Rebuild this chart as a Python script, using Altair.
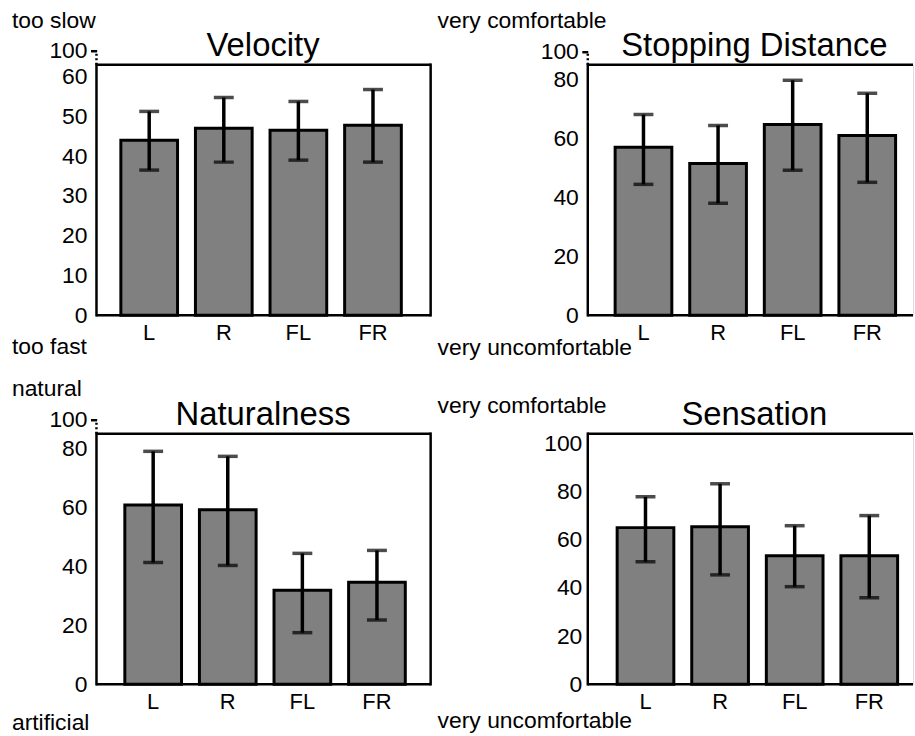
import altair as alt
import pandas as pd

# ---------------- data ----------------
cats = ["L", "R", "FL", "FR"]

vel_mean = [44.0, 47.0, 46.5, 47.75]
vel_hi = [51.25, 54.75, 53.75, 56.75]
vel_lo = [36.5, 38.5, 39.0, 38.5]

stop_mean = [57.0, 51.5, 64.7, 61.0]
stop_hi = [68.1, 64.4, 79.7, 75.3]
stop_lo = [44.4, 38.0, 49.2, 45.1]

nat_mean = [60.8, 59.2, 31.9, 34.6]
nat_hi = [79.0, 77.3, 44.4, 45.4]
nat_lo = [41.3, 40.3, 17.5, 21.8]

sen_mean = [65.0, 65.4, 53.3, 53.3]
sen_hi = [77.8, 83.2, 65.8, 70.0]
sen_lo = [50.8, 45.4, 40.5, 35.9]

vel_ticks = [0, 10, 20, 30, 40, 50, 60, 100]
pct_ticks = [0, 20, 40, 60, 80, 100]

FONT = "Liberation Sans"
H = 252


def panel(title, mean, lo, hi, W, top_val, ticks, notes, note_x, note_top_y,
          note_bot_y, align, broken, break_px=-14, right_edge=True):
    df = pd.DataFrame({"cat": cats, "mean": mean, "lo": lo, "hi": hi})
    one = pd.DataFrame({"a": [0]})
    pi = 0.24
    po = (W / 75.0 - 4 + pi) / 2
    xscale = alt.Scale(domain=cats, paddingInner=pi, paddingOuter=po, align=align)
    if broken:
        yscale = alt.Scale(domain=[0, top_val, 100], range=[H, 0, break_px],
                           nice=False, zero=False)
    else:
        yscale = alt.Scale(domain=[0, top_val], nice=False, zero=False)
    xaxis = alt.Axis(title=None, domain=False, ticks=False, grid=False,
                     labelAngle=0, labelFont=FONT, labelFontSize=22,
                     labelColor="black", labelPadding=7)
    yaxis = alt.Axis(values=ticks, title=None, domain=False, grid=False,
                     ticks=broken, tickSize=6, tickWidth=2.5,
                     tickColor={"condition": {"test": "datum.value === 100", "value": "black"},
                                "value": "transparent"},
                     labelFont=FONT, labelFontSize=23, labelColor="black",
                     labelPadding=3.5 if broken else 6)
    X = alt.X("cat:N", sort=cats, scale=xscale, axis=xaxis)

    base = alt.Chart(df)
    bars = base.mark_bar(fill="#808080", stroke="black", strokeWidth=3,
                         strokeJoin="miter").encode(
        x=X, y=alt.Y("mean:Q", scale=yscale, axis=yaxis))
    err = base.mark_rule(color="black", strokeWidth=3.5).encode(
        x=X, y=alt.Y("lo:Q", scale=yscale, axis=yaxis), y2="hi:Q")
    cap_hi = base.mark_tick(color="black", thickness=3.5, size=20,
                            orient="horizontal").encode(
        x=X, y=alt.Y("hi:Q", scale=yscale, axis=yaxis))
    cap_lo = base.mark_tick(color="black", thickness=3.5, size=20,
                            orient="horizontal").encode(
        x=X, y=alt.Y("lo:Q", scale=yscale, axis=yaxis))

    frame_c = alt.Chart(one)
    vline = dict(color="black", strokeWidth=2.5, strokeCap="square")
    hline = dict(color="black", strokeWidth=2.5, strokeCap="butt")
    layers = [bars, err, cap_hi, cap_lo,
              frame_c.mark_rule(**vline).encode(x=alt.value(0), y=alt.value(0), y2=alt.value(H)),
              frame_c.mark_rule(**hline).encode(x=alt.value(0), x2=alt.value(W), y=alt.value(0)),
              frame_c.mark_rule(**hline).encode(x=alt.value(0), x2=alt.value(W), y=alt.value(H))]
    if right_edge:
        layers.append(frame_c.mark_rule(**vline).encode(
            x=alt.value(W), y=alt.value(0), y2=alt.value(H)))
    if broken:
        brk = pd.DataFrame({"y0": [top_val], "y1": [100]})
        layers.append(alt.Chart(brk).mark_rule(color="black", strokeWidth=2.5,
                                               strokeDash=[2, 2.5]).encode(
            x=alt.value(0), y=alt.Y("y0:Q", scale=yscale, axis=yaxis), y2="y1:Q"))
    txt = dict(font=FONT, fontSize=23, align="left", baseline="alphabetic", color="black")
    layers.append(frame_c.mark_text(**txt).encode(
        x=alt.value(note_x), y=alt.value(note_top_y), text=alt.value(notes[0])))
    layers.append(frame_c.mark_text(**txt).encode(
        x=alt.value(note_x), y=alt.value(H + note_bot_y), text=alt.value(notes[1])))
    layers.append(frame_c.mark_text(font=FONT, fontSize=33, align="center",
                                    baseline="alphabetic", color="black").encode(
        x=alt.value(167.5), y=alt.value(-9), text=alt.value(title)))
    return alt.layer(*layers).properties(width=W, height=H)


p1 = panel("Velocity", vel_mean, vel_lo, vel_hi, 336, 63, vel_ticks,
           ["too slow", "too fast"], -85, -37, 39, 0.454, True, -14)
p2 = panel("Stopping Distance", stop_mean, stop_lo, stop_hi, 327, 85, pct_ticks,
           ["very comfortable", "very uncomfortable"], -151, -37, 39.5, 0.611, True, -13,
           right_edge=False)
p3 = panel("Naturalness", nat_mean, nat_lo, nat_hi, 336, 85, pct_ticks,
           ["natural", "artificial"], -85, -38, 46, 0.528, True, -14)
p4 = panel("Sensation", sen_mean, sen_lo, sen_hi, 327, 104, pct_ticks,
           ["very comfortable", "very uncomfortable"], -151, -21, 44, 0.656, False,
           right_edge=False)

chart = alt.vconcat(
    alt.hconcat(p1, p2, spacing=3),
    alt.hconcat(p3, p4, spacing=3),
    spacing=17,
).properties(
    padding={"left": 11, "top": 7, "right": 0, "bottom": 0},
    background="white",
).configure_view(strokeWidth=0).configure(font=FONT)

chart.save("out.html", embed_options={"renderer": "svg", "actions": False})
